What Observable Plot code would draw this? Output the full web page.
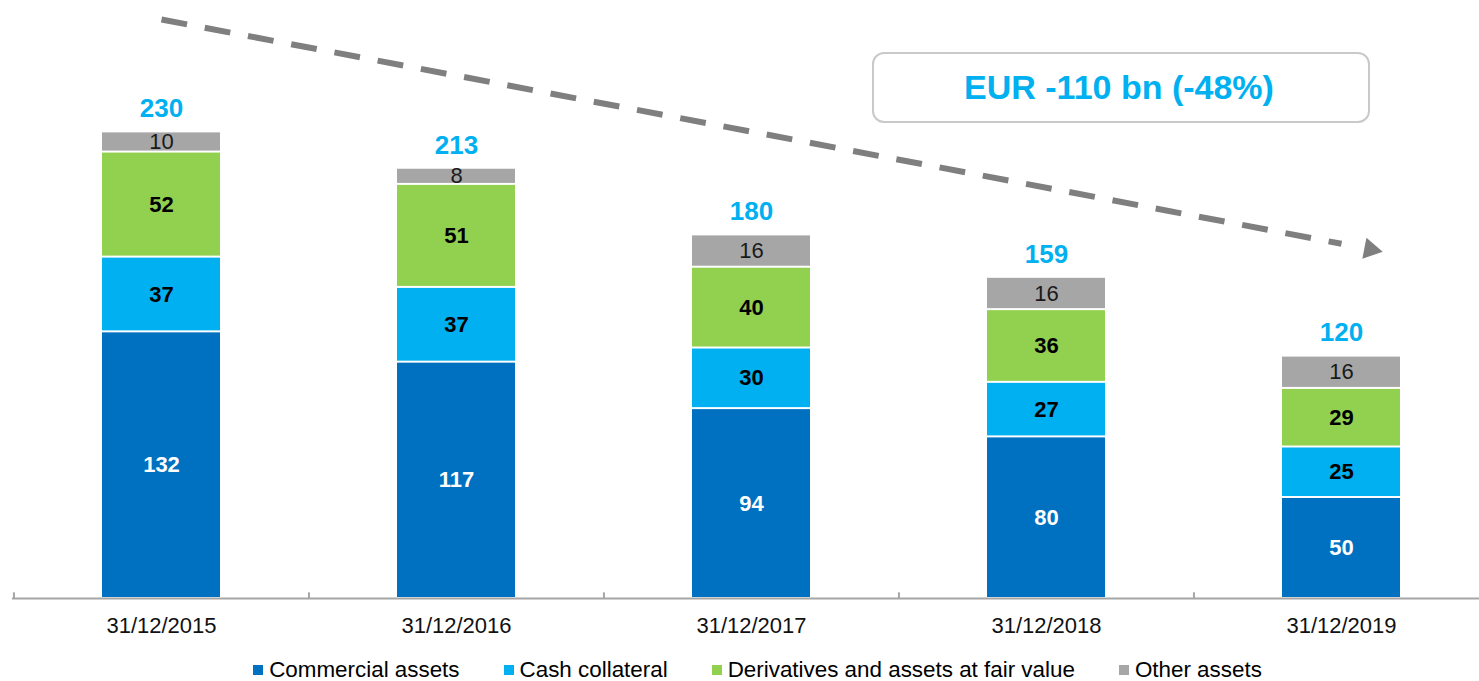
<!DOCTYPE html>
<html>
<head>
<meta charset="utf-8">
<script src="https://cdn.jsdelivr.net/npm/d3@7"></script>
<script src="https://cdn.jsdelivr.net/npm/@observablehq/plot@0.6"></script>
<style>
  html, body { margin: 0; padding: 0; background: #fff; }
  #wrap { position: relative; width: 1479px; height: 681px; overflow: hidden; font-family: "Liberation Sans", Arial, sans-serif; }
  #box { position: absolute; left: 872px; top: 52px; width: 490px; height: 67px; border: 2px solid #c9c9c9; border-radius: 12px; box-sizing: content-box;
         display: flex; align-items: center; justify-content: center; color: #00b0f0; font-weight: bold; font-size: 34px; padding-right: 4px; }
  #legend { position: absolute; left: 0; top: 656px; width: 1479px; height: 28px; padding-left: 36px; box-sizing: border-box; display: flex; justify-content: center; align-items: center; font-size: 22.4px; color: #000; }
  .item { display: flex; align-items: center; margin: 0 22px; }
  .sw { width: 10px; height: 10px; margin-right: 6px; }
</style>
</head>
<body>
<div id="wrap">
  <div id="chart"></div>
  <div id="box"></div>
  <div id="legend"></div>
</div>
<script>
const dates = ["31/12/2015", "31/12/2016", "31/12/2017", "31/12/2018", "31/12/2019"];
const seriesNames = ["Commercial assets", "Cash collateral", "Derivatives and assets at fair value", "Other assets"];
const seriesColors = ["#0070c0", "#00b0f0", "#92d050", "#a6a6a6"];
const commercial = [132, 117, 94, 80, 50];
const cash = [37, 37, 30, 27, 25];
const derivatives = [52, 51, 40, 36, 29];
const other = [10, 8, 16, 16, 16];
const totals = [230, 213, 180, 159, 120];
const annotationText = "EUR -110 bn (-48%)";
// trend arrow anchors (value units)
const trendStart = 286.6;
const trendEnd = 175.6;

const seriesValues = [commercial, cash, derivatives, other];
const data = [];
dates.forEach((d, i) => {
  seriesNames.forEach((s, j) => {
    data.push({date: d, series: s, value: seriesValues[j][i]});
  });
});
const totalsTable = dates.map((d, i) => ({
  date: d,
  top: commercial[i] + cash[i] + derivatives[i] + other[i],
  total: totals[i]
}));
const trend = [{from: dates[0], to: dates[4], y1: trendStart, y2: trendEnd}];
const arrowHead = [{date: dates[4], y: trendEnd}];

const stackOpts = (extra) => Plot.stackY({x: "date", y: "value", z: "series", order: seriesNames, ...extra});

const plot = Plot.plot({
  width: 1479,
  height: 645,
  marginLeft: 12,
  marginRight: 0,
  marginTop: 0,
  marginBottom: 47,
  style: {fontFamily: "'Liberation Sans', Arial, sans-serif", background: "white"},
  x: {type: "band", domain: dates, range: [13.5, 1489], paddingInner: 0.6, paddingOuter: 0.3, axis: null},
  y: {domain: [0, 290], range: [598, 598 - 290 * 2.02], axis: null},
  color: {domain: seriesNames, range: seriesColors},
  marks: [
    Plot.barY(data, stackOpts({fill: "series", insetTop: 1, insetBottom: 1})),
    Plot.text(data, stackOpts({text: d => d.series === seriesNames[0] ? String(d.value) : "", fill: "white", fontWeight: "bold", fontSize: 22})),
    Plot.text(data, stackOpts({text: d => (d.series === seriesNames[1] || d.series === seriesNames[2]) ? String(d.value) : "", fill: "black", fontWeight: "bold", fontSize: 22})),
    Plot.text(data, stackOpts({text: d => d.series === seriesNames[3] ? String(d.value) : "", fill: "#1a1a1a", fontSize: 22})),
    Plot.text(totalsTable, {x: "date", y: "top", text: d => String(d.total), dy: -23, fill: "#00b0f0", fontWeight: "bold", fontSize: 26}),
    Plot.ruleY([0], {stroke: "#a6a6a6", strokeWidth: 2}),
    Plot.ruleX(dates, {x: d => d, y1: 0, y2: 2.8, dx: -295.1 / 2, stroke: "#a6a6a6", strokeWidth: 2}),
    Plot.text(dates, {x: d => d, y: 0, dy: 27, text: d => d, fill: "#111", fontSize: 22}),
    Plot.link(trend, {x1: "from", x2: "to", y1: "y1", y2: "y2", stroke: "#7f7f7f", strokeWidth: 6, strokeDasharray: "26,18"}),
    Plot.dot(arrowHead, {x: "date", y: "y", symbol: "triangle", r: 8, fill: "#7f7f7f", stroke: "none", rotate: 100.9, dx: 29, dy: 5.6})
  ]
});
document.getElementById("chart").appendChild(plot);
document.getElementById("box").textContent = annotationText;

const legend = document.getElementById("legend");
seriesNames.forEach((s, i) => {
  const item = document.createElement("div");
  item.className = "item";
  const sw = document.createElement("div");
  sw.className = "sw";
  sw.style.background = seriesColors[i];
  const t = document.createElement("span");
  t.textContent = s;
  item.appendChild(sw);
  item.appendChild(t);
  legend.appendChild(item);
});
</script>
</body>
</html>
